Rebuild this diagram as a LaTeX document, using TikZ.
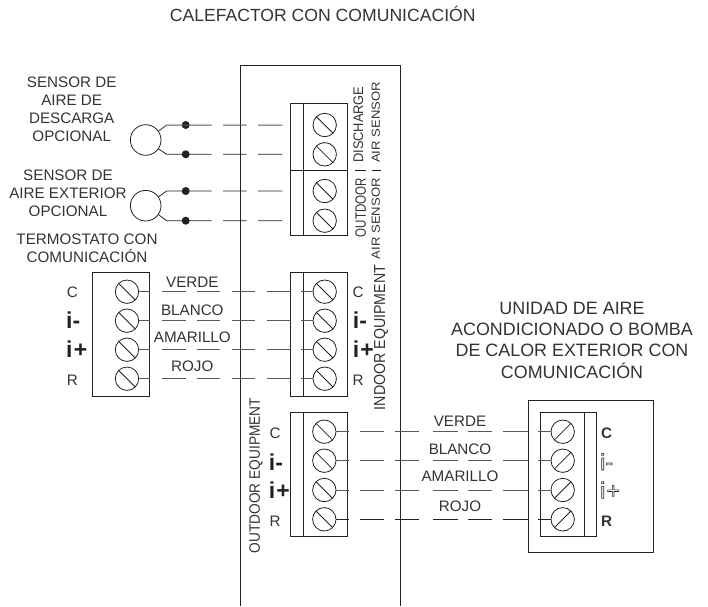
\documentclass[tikz,border=0pt]{standalone}
\usepackage{fontspec}
\setmainfont{Liberation Sans}
\usetikzlibrary{calc}
\definecolor{ink}{HTML}{222222}
\definecolor{txt}{HTML}{333333}
\tikzset{x=1pt,y=-1pt,
  pen/.style={draw=ink,line width=0.8pt},
  gwire/.style={draw=ink!75,line width=1pt},
  kwire/.style={draw=ink,line width=0.8pt},
  screw/.style={circle,draw=ink,line width=0.8pt,minimum size=23.4pt,inner sep=0pt},
  lab/.style={text=txt,font=\fontsize{15.2}{18}\selectfont,inner sep=0pt,align=center},
  rot/.style={text=txt,rotate=90,inner sep=0pt,font=\fontsize{13.1}{14}\selectfont},
  big/.style={text=ink,font=\fontsize{23}{23}\bfseries\selectfont,inner sep=0pt,anchor=west},
  sensorc/.style={circle,draw=ink,line width=0.8pt,minimum size=30.6pt,inner sep=0pt},
  blockb/.style={draw=ink,line width=0.8pt,inner sep=0pt},
  dotn/.style={circle,fill=ink,inner sep=0pt,minimum size=8pt}
}
\newcommand{\slashL}[1]{\draw[pen] ($(#1)+(-8.3,-8.3)$) -- ($(#1)+(8.3,8.3)$);}
\newcommand{\slashR}[1]{\draw[pen] ($(#1)+(-8.3,8.3)$) -- ($(#1)+(8.3,-8.3)$);}
\newcommand{\outl}[1]{\special{pdf:code 1 Tr 0.6 w}#1\special{pdf:code 0 Tr}}
\newcommand{\iplus}{i\kern1.2pt+}
\begin{document}
\begin{tikzpicture}
\useasboundingbox (0,0) rectangle (708,606);
% panel
\coordinate (pbl) at (240.5,606); \coordinate (ptl) at (240.5,65.7);
\coordinate (ptr) at (400,65.7); \coordinate (pbr) at (400,606);
\draw[pen] (pbl) -- (ptl) -- (ptr) -- (pbr);
% title
\node[lab,font=\fontsize{17.6}{21}\selectfont] (title) at (322.7,13.5) {CALEFACTOR CON COMUNICACIÓN};
% sensor block
\node[blockb,minimum width=57.4pt,minimum height=132pt] (sb) at (319,169.3) {};
\draw[pen] (303.3,103.3) -- (303.3,235.3);
\draw[pen] (290.3,170) -- (347.7,170);
\foreach \n/\y in {s1/125,s2/154.3,s3/191,s4/220.7}{
  \node[screw] (\n) at (324.7,\y) {}; \slashL{\n}
}
% sensors
\node[sensorc] (c1) at (145.7,140) {};
\node[sensorc] (c2) at (145.7,205.7) {};
\foreach \c/\ya/\yb/\d/\w in {c1/125/154.3/a/gwire,c2/191/220.7/b/kwire}{
  \node[dotn] (\d1) at (185.7,\ya) {};
  \node[dotn] (\d2) at (185.7,\yb) {};
  \draw[\w] (\c.35) -- (166.7,\ya) -- (211.7,\ya) (223,\ya) -- (246.7,\ya) (258,\ya) -- (282.3,\ya);
  \draw[kwire] (\c.-35) -- (166.7,\yb) -- (211.7,\yb) (223,\yb) -- (246.7,\yb) (258,\yb) -- (282.3,\yb);
}
\node[lab] (l1) at (71.7,109) {SENSOR DE\\AIRE DE\\DESCARGA\\OPCIONAL};
\node[lab] (l2) at (68,193.3) {SENSOR DE\\AIRE EXTERIOR\\OPCIONAL};
\node[lab] (l3) at (87,248.5) {TERMOSTATO CON\\COMUNICACIÓN};
\node[rot,anchor=west] (r1) at (358.3,163) {\scalebox{0.98}[1.06]{DISCHARGE}};
\node[rot,anchor=west] (r1b) at (375.7,163) {\scalebox{1}[0.9]{AIR SENSOR}};
\node[rot,anchor=east] (r2) at (360.8,178) {\scalebox{0.88}[1.15]{OUTDOOR}};
\node[rot,anchor=east] (r2b) at (375.7,178) {\scalebox{1}[0.9]{AIR SENSOR}};
\coordinate (m1) at (355,170.5); \coordinate (m2) at (366,170.5);
\coordinate (m3) at (371.7,170.5); \coordinate (m4) at (380.5,170.5);
\draw[pen] (m1) -- (m2) (m3) -- (m4);
% thermostat
\node[blockb,line width=1pt,minimum width=56.6pt,minimum height=124pt] (tb) at (121,334.7) {};
\foreach \n/\y in {t1/291.7,t2/320.7,t3/349.7,t4/378.7}{
  \node[screw] (\n) at (127,\y) {}; \slashL{\n}
}
% indoor
\node[blockb,minimum width=56.3pt,minimum height=124pt] (ib) at (318.85,334.7) {};
\draw[pen] (303.3,272.7) -- (303.3,396.7);
\foreach \n/\y in {i1/291.7,i2/320.7,i3/349.7,i4/378.7}{
  \node[screw] (\n) at (324.7,\y) {}; \slashL{\n}
}
\foreach \a/\b/\y in {t1/i1/291.7,t2/i2/320.7,t3/i3/349.7,t4/i4/378.7}{
  \draw[gwire] (\a.east) -- (150,\y) (161.7,\y) -- (185.7,\y) (196.7,\y) -- (220.3,\y)
     (231.7,\y) -- (255,\y) (266.7,\y) -- (290.7,\y) (301.3,\y) -- (\b.west);
}
\node[lab] at (192.3,282.7) {VERDE};
\node[lab] at (192.3,310) {BLANCO};
\node[lab] at (192.3,337.7) {AMARILLO};
\node[lab] at (192.3,366.7) {ROJO};
\foreach \x in {72.3,358}{
  \node[lab] at (\x,292.3) {C};
  \node[lab] at (\x,380) {R};
}
\node[big] at (66,320) {i-};
\node[big] at (66,349) {\iplus};
\node[big] at (352.7,320) {i-};
\node[big] at (352.7,349) {\iplus};
\node[rot,font=\fontsize{14.2}{14}\selectfont] at (381,337.5) {\scalebox{1}[1.12]{INDOOR EQUIPMENT}};
% outdoor
\node[blockb,minimum width=57pt,minimum height=124pt] (ob) at (318.8,474.7) {};
\draw[pen] (303.3,412.7) -- (303.3,536.7);
\foreach \n/\y in {o1/431.7,o2/460.7,o3/490,o4/519.3}{
  \node[screw] (\n) at (324.3,\y) {}; \slashL{\n}
}
\node[rot,font=\fontsize{13.7}{14}\selectfont] at (256,475.5) {\scalebox{1}[1.1]{OUTDOOR EQUIPMENT}};
\node[lab] at (275,433.5) {C};
\node[lab] at (275,521) {R};
\node[big] at (268.7,461.7) {i-};
\node[big] at (268.7,490) {\iplus};
% outdoor unit
\node[blockb,minimum width=125.3pt,minimum height=152.3pt] (ub) at (590.65,476.15) {};
\node[blockb,minimum width=56.7pt,minimum height=124pt] (ui) at (568.35,474.8) {};
\draw[pen] (584,412.7) -- (584,537);
\foreach \n/\y in {u1/431.7,u2/460.7,u3/490,u4/519.3}{
  \node[screw] (\n) at (562.7,\y) {}; \slashR{\n}
}
\foreach \a/\b/\y/\w in {o1/u1/431.7/gwire,o2/u2/460.7/gwire,o3/u3/490/gwire,o4/u4/519.3/kwire}{
  \draw[\w] (\a.east) -- (349,\y) (360,\y) -- (384,\y) (395,\y) -- (419,\y)
     (433.3,\y) -- (457.7,\y) (468.3,\y) -- (492.3,\y) (503.3,\y) -- (528.3,\y) (538.3,\y) -- (\b.west);
}
\node[lab] at (460,421.7) {VERDE};
\node[lab] at (460,449.3) {BLANCO};
\node[lab] at (460,476.7) {AMARILLO};
\node[lab] at (460,506.7) {ROJO};
\node[lab,font=\fontsize{15.2}{18}\bfseries\selectfont] at (606.7,433) {C};
\node[lab,font=\fontsize{15.2}{18}\bfseries\selectfont] at (606.7,521) {R};
\node[big,font=\fontsize{23}{23}\selectfont] at (600,461.7) {\outl{i-}};
\node[big,font=\fontsize{23}{23}\selectfont] at (600,490) {\outl{\iplus}};
\node[lab,font=\fontsize{17.9}{21.3}\selectfont] (ul) at (572,340) {UNIDAD DE AIRE\\ACONDICIONADO O BOMBA\\DE CALOR EXTERIOR CON\\COMUNICACIÓN};
\end{tikzpicture}
\end{document}
